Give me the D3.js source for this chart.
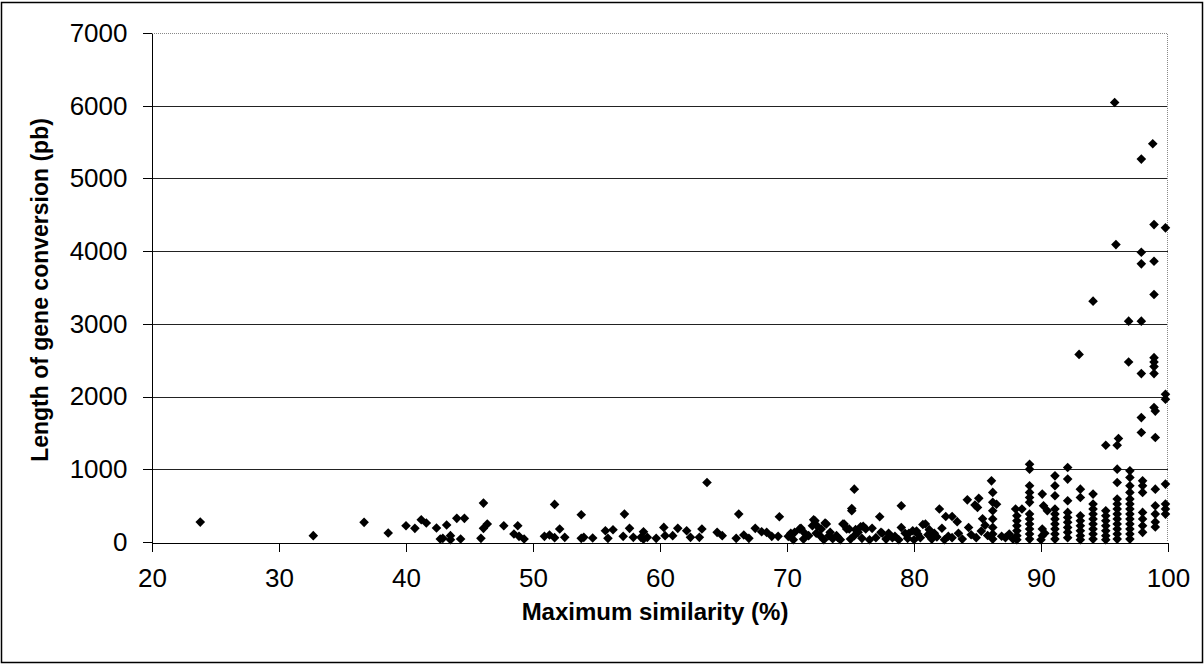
<!DOCTYPE html>
<html lang="en">
<head>
    <meta charset="UTF-8">
    <title>Gene conversion length vs maximum similarity</title>
    <script src="https://d3js.org/d3.v7.min.js"></script>
    <style>
        body { margin: 0; background: #fff; }
        svg { display: block; font-family: "Liberation Sans", Arial, sans-serif; }
        .axis path, .axis line { stroke: #000; shape-rendering: crispEdges; }
        .axis text { font-size: 26px; fill: #000; }
        .grid line { stroke: #222; shape-rendering: crispEdges; }
        .title { font-weight: bold; fill: #000; }
    </style>
</head>
<body>
    <svg width="1204" height="664"></svg>

    <script>
        // Points: [similarity %, length pb]
        const lowSimilarity = [
            [23.8, 274], [32.7, 87], [36.7, 270], [38.6, 123], [40, 224], [40.7, 188], [41.2, 306],
            [41.6, 261], [42.4, 192], [42.7, 41], [42.9, 50], [43.2, 233], [43.5, 87], [43.5, 30],
            [44.0, 325], [44.6, 325], [44.3, 41], [45.9, 50], [46.1, 535], [46.1, 188], [46.4, 247],
            [47.7, 224], [48.5, 110], [48.8, 224], [48.9, 78], [49.3, 41]
        ];

        const midSimilarity = [
            [50.9, 78], [51.3, 96], [51.7, 517], [51.7, 60], [52.1, 178], [52.5, 64], [53.8, 375],
            [53.8, 50], [54.0, 64], [54.7, 55], [55.7, 155], [55.9, 50], [56.3, 169], [57.1, 78],
            [57.2, 384], [57.6, 188], [57.9, 64], [58.5, 64], [58.7, 141], [58.7, 40], [59.0, 64],
            [59.7, 50], [60.3, 201], [60.4, 87], [61.0, 87], [61.4, 188], [62.1, 155], [62.4, 64],
            [63.1, 64], [63.3, 178], [63.7, 819], [64.5, 133], [64.9, 87], [66.0, 50], [66.2, 384],
            [66.6, 96], [67.0, 50], [67.5, 188], [68.0, 141], [68.4, 133], [68.8, 78], [69.3, 78],
            [69.4, 347]
        ];

        const denseSimilarity = [
            [70.1, 78], [70.3, 120], [70.6, 133], [71.0, 180], [71.1, 188], [71.4, 120], [71.7, 87],
            [72.0, 224], [72.1, 306], [72.2, 293], [72.3, 120], [72.4, 215], [72.6, 87], [72.7, 178],
            [73.0, 261], [73.1, 247], [73.3, 87], [73.4, 133], [73.9, 87], [74.0, 64], [74.4, 247],
            [74.5, 247], [74.7, 180], [74.9, 178], [75.1, 430], [75.1, 460], [75.3, 727], [75.3, 87],
            [75.4, 170], [75.6, 133], [75.8, 210], [76.0, 215], [76.2, 180], [76.7, 188], [77.3, 347],
            [77.4, 133], [77.5, 120], [78.0, 120], [78.5, 80], [79.0, 498], [79.0, 200], [79.3, 120],
            [79.6, 120], [79.9, 155], [80.2, 150], [80.3, 110], [80.7, 240], [80.9, 247], [81.1, 100],
            [81.2, 170], [81.6, 120], [82.0, 453], [82.2, 190], [82.5, 350], [82.7, 80], [83.0, 350],
            [83.4, 280], [83.5, 120],
            [70.5, 30], [71.3, 40], [72.9, 30], [73.6, 45], [74.2, 30], [75.0, 40], [75.9, 50],
            [76.5, 30], [77.0, 60], [77.8, 40], [78.3, 60], [78.8, 30], [79.5, 50], [80.0, 30],
            [80.5, 60], [81.4, 40], [81.8, 70], [82.4, 30], [83.0, 60], [83.8, 40]
        ];

        const highSimilarity = [
            [84.2, 580], [84.3, 200], [84.8, 508], [85.0, 476], [85.1, 600], [85.4, 320], [85.6, 230],
            [84.5, 100], [84.9, 60], [85.3, 150], [85.8, 90],
            [86.1, 841], [86.2, 682], [86.2, 545], [86.2, 430], [86.2, 316], [86.2, 201], [86.2, 110],
            [86.2, 40], [86.5, 520], [86.9, 80], [87.2, 60], [87.5, 110], [87.8, 40],
            [88.0, 453], [88.1, 361], [88.1, 292], [88.1, 224], [88.1, 155], [88.1, 87], [88.1, 30],
            [88.5, 453],
            [89.1, 1070], [89.1, 1002], [89.1, 773], [89.1, 682], [89.1, 613], [89.1, 545], [89.1, 384],
            [89.1, 316], [89.1, 247], [89.1, 178], [89.1, 110], [89.1, 40],
            [90.1, 659], [90.2, 498], [90.5, 430], [90.1, 178], [90.1, 87], [90.0, 30], [90.3, 120],
            [91.1, 910], [91.1, 773], [91.1, 636], [91.1, 453], [91.1, 384], [91.1, 315], [91.1, 247],
            [91.1, 178], [91.1, 110], [91.1, 40],
            [92.1, 1025], [92.1, 865], [92.1, 567], [92.1, 407], [92.1, 338], [92.1, 270], [92.1, 201],
            [92.1, 133], [92.1, 60],
            [93.0, 2580], [93.1, 727], [93.1, 613], [93.1, 361], [93.1, 292], [93.1, 224], [93.1, 155],
            [93.1, 87], [93.1, 30],
            [94.1, 3312], [94.1, 659], [94.1, 522], [94.1, 453], [94.1, 384], [94.1, 316], [94.1, 247],
            [94.1, 178], [94.1, 110], [94.1, 40],
            [95.1, 1331], [95.1, 430], [95.1, 361], [95.1, 292], [95.1, 224], [95.1, 155], [95.1, 87],
            [95.1, 30]
        ];

        const topSimilarity = [
            [95.8, 6044], [95.9, 4090], [96.0, 1331], [96.1, 1423], [96.0, 1002], [96.0, 819], [96.0, 590],
            [96.0, 522], [96.0, 453], [96.0, 384], [96.0, 316], [96.0, 247], [96.0, 178], [96.0, 110],
            [96.0, 40],
            [96.9, 3037], [96.9, 2475], [97.0, 979], [97.0, 888], [97.0, 773], [97.0, 682], [97.0, 590],
            [97.0, 522], [97.0, 453], [97.0, 384], [97.0, 316], [97.0, 247], [97.0, 178], [97.0, 110],
            [97.0, 40],
            [97.9, 5266], [97.9, 3984], [97.9, 3825], [97.9, 3037], [97.9, 2316], [97.9, 1711], [97.9, 1505],
            [98.0, 841], [98.0, 773], [98.0, 682], [98.0, 407], [98.0, 316], [98.0, 224], [98.0, 133],
            [98.8, 5476], [98.9, 4365], [98.9, 3861], [98.9, 3404], [98.9, 2535], [98.9, 2475], [98.9, 2412],
            [98.9, 2316], [98.9, 1849], [99.0, 1800], [99.0, 1437], [99.0, 727], [99.0, 498], [99.0, 384],
            [99.0, 275], [99.0, 206],
            [99.8, 4320], [99.8, 2031], [99.8, 1963], [99.8, 796], [99.8, 522], [99.8, 453], [99.8, 384]
        ];

        const xTicks = [20, 30, 40, 50, 60, 70, 80, 90, 100];
        const yTicks = [0, 1000, 2000, 3000, 4000, 5000, 6000, 7000];

        const svg = d3.select("svg");
        const W = +svg.attr("width"), H = +svg.attr("height");

        // outer frame
        svg.append("rect")
            .attr("x", 1.5).attr("y", 2.5)
            .attr("width", W - 3).attr("height", H - 4)
            .attr("fill", "none").attr("stroke", "#000").attr("stroke-width", 1.5);

        const x = d3.scaleLinear().domain([20, 100]).range([152, 1168]);
        const y = d3.scaleLinear().domain([0, 7000]).range([542, 33]);

        // gridlines
        svg.append("g").attr("class", "grid")
            .selectAll("line")
            .data(yTicks.filter(d => d > 0 && d < 7000))
            .join("line")
            .attr("x1", x(20)).attr("x2", x(100))
            .attr("y1", d => Math.round(y(d)) + 0.5).attr("y2", d => Math.round(y(d)) + 0.5);

        // dotted plot-area border (top and right)
        svg.append("path")
            .attr("d", `M${x(20)},${Math.round(y(7000)) + 0.5}H${Math.round(x(100)) - 0.5}V${y(0)}`)
            .attr("fill", "none")
            .attr("stroke", "#888")
            .attr("stroke-dasharray", "1,1");

        svg.append("g")
            .attr("class", "axis")
            .attr("transform", `translate(0,${Math.round(y(0)) + 0.5})`)
            .call(d3.axisBottom(x).tickValues(xTicks).tickSize(9).tickPadding(17).tickSizeOuter(0))
            .call(g => g.selectAll("text").attr("dy", "0.71em"));

        svg.append("g")
            .attr("class", "axis")
            .attr("transform", `translate(${Math.round(x(20)) - 0.5},0)`)
            .call(d3.axisLeft(y).tickValues(yTicks).tickFormat(d3.format("d"))
                .tickSize(9).tickPadding(15).tickSizeOuter(0));

        // points
        const points = [].concat(lowSimilarity, midSimilarity, denseSimilarity, highSimilarity, topSimilarity);
        svg.append("g")
            .selectAll("path")
            .data(points)
            .join("path")
            .attr("d", "M0,-4.8L4.8,0L0,4.8L-4.8,0Z")
            .attr("transform", d => `translate(${x(d[0])},${y(d[1])})`)
            .attr("fill", "#000");

        // axis titles
        svg.append("text")
            .attr("class", "title")
            .attr("x", 655).attr("y", 620)
            .attr("text-anchor", "middle")
            .style("font-size", "24px")
            .text("Maximum similarity (%)");

        svg.append("text")
            .attr("class", "title")
            .attr("transform", "translate(48,290) rotate(-90)")
            .attr("text-anchor", "middle")
            .style("font-size", "23px")
            .text("Length of gene conversion (pb)");
    </script>
</body>
</html>
